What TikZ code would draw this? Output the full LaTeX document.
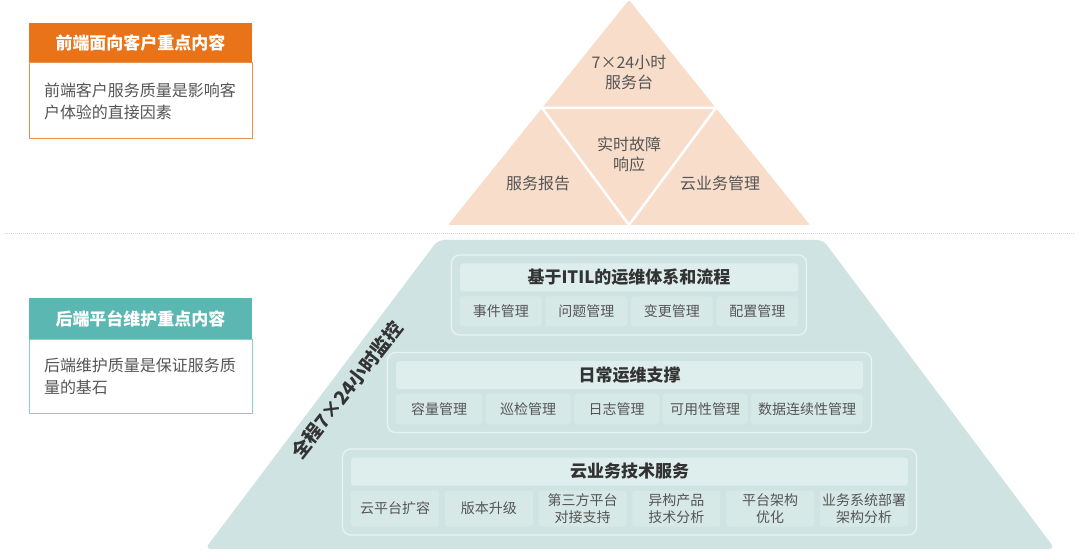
\documentclass[tikz,border=0pt]{standalone}
\usepackage{fontspec}
\setmainfont{Noto Sans CJK SC}
\usepackage{xcolor}
\usetikzlibrary{positioning, fit, calc}
\definecolor{peach}{HTML}{F8DDCB}
\definecolor{mint}{HTML}{CFE4E2}
\definecolor{cellbg}{HTML}{D7E9E7}
\definecolor{headbg}{HTML}{DDEEEC}
\definecolor{frontor}{HTML}{E97318}
\definecolor{backtl}{HTML}{5BB7B1}
\definecolor{txtgray}{HTML}{555555}
\definecolor{txtdark}{HTML}{333333}

\begin{document}
\begin{tikzpicture}[x=1pt, y=-1pt,
    every node/.style={inner sep=0pt, outer sep=0pt},
    lbl/.style={align=center, font=\fontsize{16}{20}\selectfont, text=txtgray},
    hdr/.style={rectangle, fill=headbg, rounded corners=3pt, minimum height=28pt, font=\fontsize{17}{20}\selectfont\bfseries, text=txtdark},
    cell/.style={rectangle, fill=cellbg, rounded corners=3pt, align=center, font=\fontsize{14}{17}\selectfont, text=txtgray},
    tier/.style={rectangle, draw=white!55!mint, line width=1.3pt, rounded corners=8pt, inner sep=8.5pt},
    panelhead/.style={rectangle, minimum width=223pt, font=\fontsize{17}{20}\selectfont\bfseries, text=white},
    panelbody/.style={rectangle, fill=white, line width=1pt, inner xsep=15pt, text width=193pt, align=left, font=\fontsize{16}{22}\selectfont, text=txtgray}
]
\fill[white] (0,0) rectangle (1080,556);
\useasboundingbox (0,0) rectangle (1080,556);

% front-end pyramid
\coordinate (apex) at (629,0);
\coordinate (bl) at (448,225);
\coordinate (br) at (810,225);
\fill[peach, rounded corners=2pt] (apex) -- (br) -- (bl) -- cycle;
\coordinate (ml) at ($(apex)!0.48!(bl)$);
\coordinate (mr) at ($(apex)!0.48!(br)$);
\coordinate (bm) at ($(bl)!0.5!(br)$);
\draw[white, line width=2.5pt] (ml) -- (mr) -- (bm) -- cycle;
\node[lbl] (desk) at (629,72) {7×24小时\\服务台};
\node[lbl] (fault) at (629,154) {实时故障\\响应};
\node[lbl] (report) at (538,183) {服务报告};
\node[lbl] (cloudmg) at (720,183) {云业务管理};

\draw[gray!35, line width=0.8pt, dash pattern=on 1pt off 1pt] (5,233) -- (1075,233);

% back-end pyramid
\fill[mint, rounded corners=6pt] (438,240) -- (823,240) -- (1055,549) -- (205,549) -- cycle;
\node[rotate=52, font=\fontsize{19}{22}\selectfont\bfseries, text=txtdark] (watch) at (347,390) {全程7×24小时监控};

% ITIL
\node[hdr, minimum width=338pt] (hdrA) at (629,277.5) {基于ITIL的运维体系和流程};
\node[cell, minimum width=81.5pt, minimum height=30pt, anchor=north west] (itil1) at ([yshift=-5pt]hdrA.south west) {事件管理};
\node[cell, minimum width=81.5pt, minimum height=30pt, right=4pt of itil1] (itil2) {问题管理};
\node[cell, minimum width=81.5pt, minimum height=30pt, right=4pt of itil2] (itil3) {变更管理};
\node[cell, minimum width=81.5pt, minimum height=30pt, right=4pt of itil3] (itil4) {配置管理};
\node[tier, fit=(hdrA)(itil1)(itil4)] (frameA) {};

% daily ops
\node[hdr, minimum width=467pt] (hdrB) at (629.5,375) {日常运维支撑};
\node[cell, minimum width=86pt, minimum height=30pt, anchor=north west] (ops1) at ([yshift=-5pt]hdrB.south west) {容量管理};
\node[cell, minimum width=85pt, minimum height=30pt, right=3.5pt of ops1] (ops2) {巡检管理};
\node[cell, minimum width=85pt, minimum height=30pt, right=3.5pt of ops2] (ops3) {日志管理};
\node[cell, minimum width=85pt, minimum height=30pt, right=3.5pt of ops3] (ops4) {可用性管理};
\node[cell, minimum width=112pt, minimum height=30pt, right=3.5pt of ops4] (ops5) {数据连续性管理};
\node[tier, fit=(hdrB)(ops1)(ops5)] (frameB) {};

% cloud tech service
\node[hdr, minimum width=557pt] (hdrC) at (629.5,471.5) {云业务技术服务};
\node[cell, minimum width=88pt, minimum height=36pt, anchor=north west] (svc1) at ([yshift=-5pt]hdrC.south west) {云平台扩容};
\node[cell, minimum width=88pt, minimum height=36pt, right=5.8pt of svc1] (svc2) {版本升级};
\node[cell, minimum width=88pt, minimum height=36pt, right=5.8pt of svc2] (svc3) {第三方平台\\对接支持};
\node[cell, minimum width=88pt, minimum height=36pt, right=5.8pt of svc3] (svc4) {异构产品\\技术分析};
\node[cell, minimum width=88pt, minimum height=36pt, right=5.8pt of svc4] (svc5) {平台架构\\优化};
\node[cell, minimum width=88pt, minimum height=36pt, right=5.8pt of svc5] (svc6) {业务系统部署\\架构分析};
\node[tier, fit=(hdrC)(svc1)(svc6)] (frameC) {};

% side panels
\node[panelhead, fill=frontor, minimum height=40pt] (frontH) at (140.5,43) {前端面向客户重点内容};
\node[panelbody, draw=frontor!80, minimum height=76pt, below=0pt of frontH] (frontB) {前端客户服务质量是影响客\\户体验的直接因素};
\node[panelhead, fill=backtl, minimum height=42pt] (backH) at (140.5,319) {后端平台维护重点内容};
\node[panelbody, draw=backtl!70, minimum height=73pt, below=0pt of backH] (backB) {后端维护质量是保证服务质\\量的基石};
\end{tikzpicture}
\end{document}
